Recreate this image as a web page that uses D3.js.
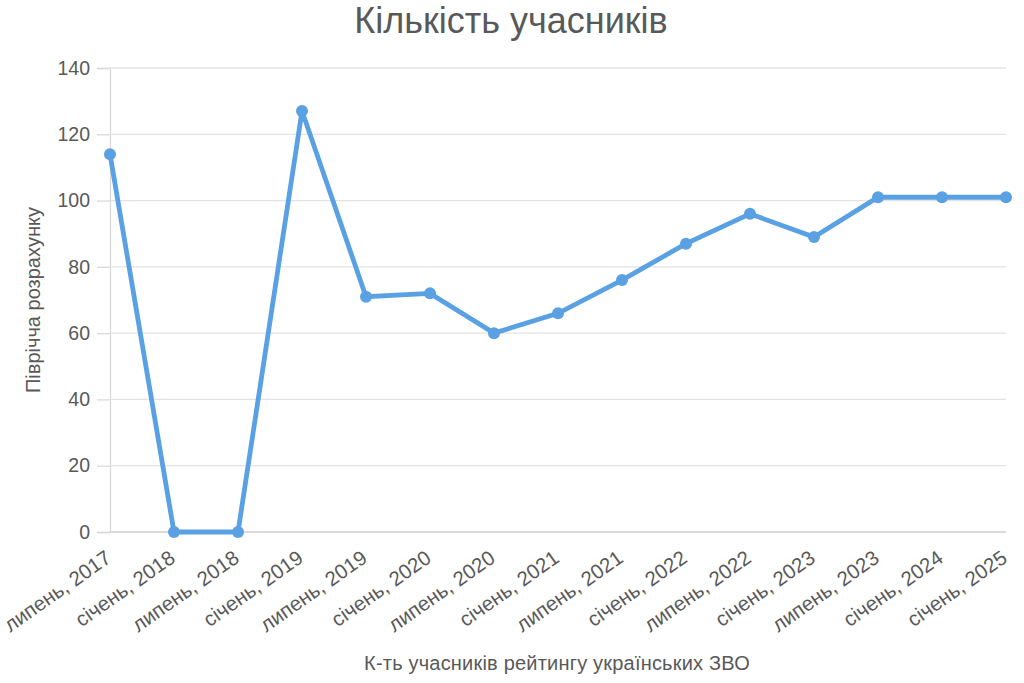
<!DOCTYPE html>
<html>
<head>
<meta charset="utf-8">
<script src="https://cdn.jsdelivr.net/npm/d3@7"></script>
<style>
  body { margin: 0; background: #fff; }
  svg { font-family: "Liberation Sans", Arial, sans-serif; }
</style>
</head>
<body>
<svg id="chart"></svg>
<script>
const categories = ["липень, 2017", "січень, 2018", "липень, 2018", "січень, 2019", "липень, 2019",
  "січень, 2020", "липень, 2020", "січень, 2021", "липень, 2021", "січень, 2022",
  "липень, 2022", "січень, 2023", "липень, 2023", "січень, 2024", "січень, 2025"];
const participants = [114, 0, 0, 127, 71, 72, 60, 66, 76, 87, 96, 89, 101, 101, 101];
const yTicks = [0, 20, 40, 60, 80, 100, 120, 140];

const width = 1024, height = 683;
const margin = { top: 68, right: 18, bottom: 151, left: 110 };
const textColor = "#595959";

const svg = d3.select("#chart").attr("width", width).attr("height", height);

const x = d3.scalePoint().domain(categories).range([margin.left, width - margin.right]);
const y = d3.scaleLinear().domain([0, 140]).range([height - margin.bottom, margin.top]);

// grid + y axis
const yAxis = svg.append("g")
  .attr("transform", `translate(${margin.left},0)`)
  .call(d3.axisLeft(y).tickValues(yTicks).tickSize(13).tickPadding(7));
yAxis.select(".domain").attr("stroke", "#d9d9d9").attr("stroke-width", 1.3);
yAxis.selectAll(".tick line").attr("stroke", "#d9d9d9").attr("stroke-width", 1.3);
yAxis.selectAll(".tick text").attr("fill", textColor).style("font-size", "19.5px");

svg.append("g").selectAll("line")
  .data(yTicks)
  .join("line")
  .attr("x1", margin.left)
  .attr("x2", width - margin.right)
  .attr("y1", d => y(d))
  .attr("y2", d => y(d))
  .attr("stroke", d => d === 0 ? "#cfcfcf" : "#e3e3e3")
  .attr("stroke-width", 1.3);

// x axis labels
const xAxis = svg.append("g")
  .attr("transform", `translate(0,${y(0)})`)
  .call(d3.axisBottom(x).tickSize(0).tickPadding(0));
xAxis.select(".domain").remove();
xAxis.selectAll(".tick text")
  .attr("fill", textColor)
  .style("font-size", "20.5px")
  .attr("text-anchor", "end")
  .attr("dy", null)
  .attr("transform", "translate(2,29) rotate(-35)");

// line
const line = d3.line()
  .x((d, i) => x(categories[i]))
  .y(d => y(d));

svg.append("path")
  .datum(participants)
  .attr("d", line)
  .attr("fill", "none")
  .attr("stroke", "#5aa1e3")
  .attr("stroke-width", 4.8)
  .attr("stroke-linejoin", "miter");

svg.selectAll(".dot")
  .data(participants)
  .join("circle")
  .attr("class", "dot")
  .attr("cx", (d, i) => x(categories[i]))
  .attr("cy", d => y(d))
  .attr("r", 6)
  .attr("fill", "#5aa1e3");

// titles
svg.append("text")
  .attr("x", 511)
  .attr("y", 33)
  .attr("text-anchor", "middle")
  .attr("fill", textColor)
  .style("font-size", "36px")
  .text("Кількість учасників");

svg.append("text")
  .attr("x", 557)
  .attr("y", 670)
  .attr("text-anchor", "middle")
  .attr("fill", textColor)
  .style("font-size", "20px")
  .style("letter-spacing", "0.2px")
  .text("К-ть учасників рейтингу українських ЗВО");

svg.append("text")
  .attr("transform", `translate(40,300) rotate(-90)`)
  .attr("text-anchor", "middle")
  .attr("fill", textColor)
  .style("font-size", "20px")
  .text("Піврічча розрахунку");
</script>
</body>
</html>
